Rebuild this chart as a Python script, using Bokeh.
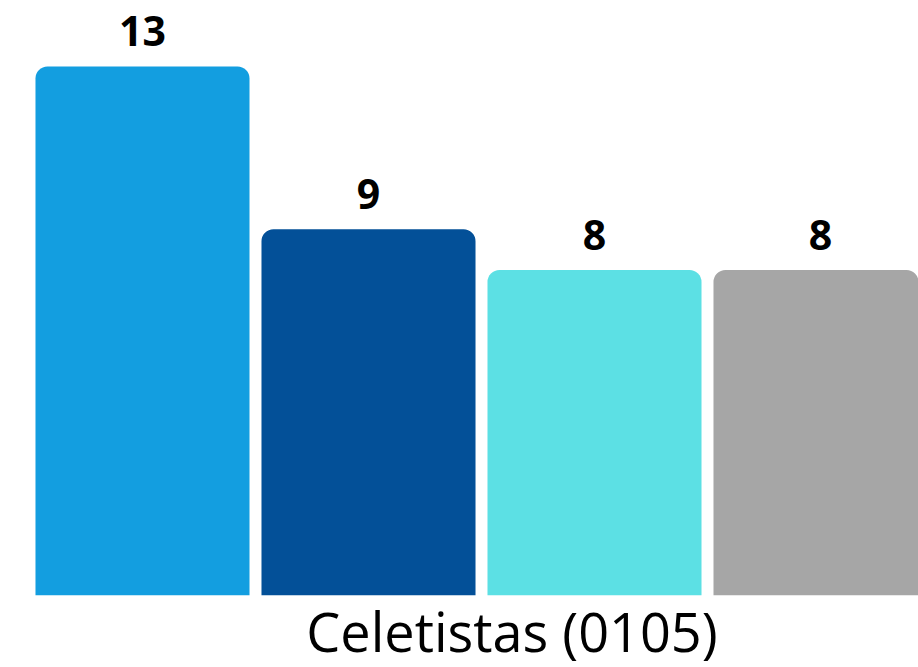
from bokeh.plotting import figure
from bokeh.models import ColumnDataSource, FixedTicker, Range1d, LabelSet
from bokeh.embed import file_html
from bokeh.resources import INLINE
from bokeh.core.properties import value

# --- data ---
series = ["Série 1", "Série 2", "Série 3", "Série 4"]
values = [13, 9, 8, 8]
colors = ["#139ee0", "#035098", "#5ce0e4", "#a6a6a6"]
category = "Celetistas (0105)"
category_tick = 1.635

positions = list(range(len(values)))
labels = [str(v) for v in values]

source = ColumnDataSource(dict(x=positions, top=values, color=colors, label=labels, name=series))

p = figure(
    frame_width=918, frame_height=595,
    x_range=Range1d(-0.6283, 3.4336), y_range=Range1d(0, 14.62),
    output_backend="svg", toolbar_location=None,
    min_border=0, min_border_left=0, min_border_right=0, min_border_top=0, min_border_bottom=0,
)
p.outline_line_color = None
p.grid.visible = False
p.yaxis.visible = False
p.background_fill_color = "white"
p.border_fill_color = "white"

p.vbar(x="x", top="top", bottom=0, width=0.947, color="color", source=source,
       line_color=None, border_radius=(12, 12, 0, 0))

lbl = LabelSet(x="x", y="top", text="label", source=source, y_offset=20,
               text_align="center", text_baseline="alphabetic",
               text_font=value("Open Sans"), text_font_style="bold",
               text_font_size="41px", text_color="black")
p.add_layout(lbl)

ax = p.xaxis[0]
ax.ticker = FixedTicker(ticks=[category_tick])
ax.major_label_overrides = {category_tick: category}
ax.axis_line_color = None
ax.major_tick_line_color = None
ax.minor_tick_line_color = None
ax.major_tick_in = 0
ax.major_tick_out = 0
ax.major_label_standoff = -2
ax.major_label_text_font = "Open Sans"
ax.major_label_text_font_size = "54px"
ax.major_label_text_color = "black"

open("out.html", "w").write(file_html(p, INLINE))
